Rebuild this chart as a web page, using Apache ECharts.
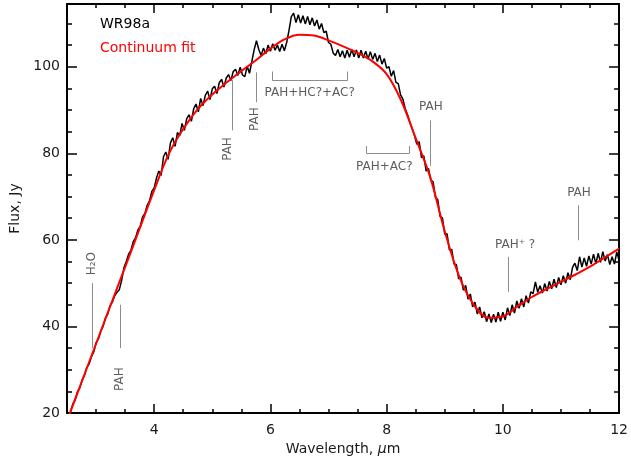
<!DOCTYPE html>
<html><head><meta charset="utf-8">
<script src="https://cdn.jsdelivr.net/npm/echarts@6/dist/echarts.min.js"></script>
<style>html,body{margin:0;padding:0;background:#fff}#c{width:631px;height:466px}</style>
</head><body><div id="c"></div>
<script>
// ---- data ----
const waveStart = 2.56, waveStep = 0.04;   // sampling grid of the observed spectrum (micron)
const flux = [
  20.2, 22.1, 23.0, 24.9, 25.8, 27.6, 28.7, 30.5, 31.3, 33.0,
  34.1, 36.2, 37.1, 38.9, 40.0, 41.9, 42.8, 44.8, 45.6, 47.1,
  47.9, 48.5, 50.6, 53.6, 55.0, 56.7, 57.6, 59.6, 60.5, 62.3,
  63.1, 65.3, 66.1, 68.0, 69.0, 71.2, 72.0, 74.3, 75.9, 74.9,
  79.2, 80.3, 78.6, 82.4, 83.6, 81.6, 84.8, 84.1, 86.9, 85.3,
  88.0, 88.9, 87.4, 90.3, 91.4, 89.6, 92.7, 91.0, 93.4, 94.4,
  92.4, 94.9, 95.5, 93.8, 96.3, 97.1, 95.3, 97.4, 98.2, 96.8,
  98.9, 99.4, 98.0, 99.9, 98.1, 97.7, 100.1, 98.5, 101.2, 103.9,
  106.0, 104.0, 102.6, 104.3, 103.0, 105.0, 103.6, 105.3, 103.8, 105.0,
  103.5, 105.2, 103.7, 105.6, 108.4, 111.6, 112.4, 110.2, 112.0, 110.1,
  111.8, 109.9, 111.6, 109.7, 111.3, 109.4, 110.8, 108.7, 110.0, 107.9,
  108.2, 105.6, 105.2, 103.2, 102.6, 104.0, 102.3, 103.7, 102.0, 103.8,
  102.2, 104.0, 102.3, 103.9, 102.0, 103.8, 102.0, 103.6, 101.8, 103.5,
  101.7, 103.1, 101.2, 102.7, 100.6, 101.9, 99.7, 100.0, 97.8, 99.1,
  96.4, 96.1, 93.5, 92.5, 90.3, 88.9, 87.1, 85.7, 84.1, 82.1,
  82.7, 79.0, 79.4, 75.9, 76.5, 73.8, 73.4, 69.8, 69.3, 65.4,
  65.1, 61.3, 61.4, 57.7, 57.8, 54.4, 54.3, 51.0, 51.4, 48.4,
  49.5, 46.3, 47.5, 44.5, 45.6, 42.9, 44.5, 42.0, 43.4, 41.1,
  42.9, 40.9, 42.8, 41.0, 43.3, 41.2, 43.3, 41.5, 44.3, 42.5,
  45.0, 43.1, 45.9, 44.2, 46.4, 44.5, 47.1, 45.4, 48.0, 47.6,
  50.3, 47.9, 49.4, 47.7, 49.9, 48.2, 50.4, 48.7, 50.9, 49.0,
  51.3, 49.6, 51.7, 50.0, 52.4, 50.8, 53.7, 54.6, 52.9, 56.1,
  53.7, 55.8, 53.9, 56.3, 54.4, 56.7, 54.5, 56.9, 54.8, 57.3,
  55.1, 56.6, 54.3, 56.1, 54.4, 57.2, 55.3
];
const contWave = [2.5, 2.75, 3.0, 3.25, 3.5, 3.75, 4.0, 4.25, 4.5, 4.75, 5.0, 5.25, 5.5, 5.75,
  6.0, 6.25, 6.5, 6.75, 7.0, 7.25, 7.5, 7.75, 8.0, 8.25, 8.5, 8.75, 9.0, 9.25, 9.5, 9.75,
  10.0, 10.25, 10.5, 10.75, 11.0, 11.25, 11.5, 11.75, 12.0];
const contFlux = [18.2, 27.1, 36.0, 44.9, 53.7, 62.6, 71.5, 79.8, 85.6, 90.2, 93.6, 96.4, 99.0, 101.5,
  104.2, 106.4, 107.4, 107.2, 106.1, 104.7, 103.2, 101.3, 98.3, 92.2, 83.5, 74.5, 62.0, 51.5, 45.0, 42.0,
  42.3, 44.6, 46.8, 48.6, 50.3, 52.0, 53.8, 55.9, 58.0];
const xMajorTicks = [4, 6, 8, 10, 12];
const xMinorTicks = [3, 3.5, 4.5, 5, 5.5, 6.5, 7, 7.5, 8.5, 9, 9.5, 10.5, 11, 11.5];
const yMajorTicks = [20, 40, 60, 80, 100];
const yMinorTicks = [25, 30, 35, 45, 50, 55, 65, 70, 75, 85, 90, 95, 105, 110];
// feature markers (polylines in data coordinates) and their labels
const annoLines = [
  [[2.94, 35], [2.94, 50]],
  [[3.42, 35], [3.42, 45]],
  [[5.34, 85.3], [5.34, 96.9]],
  [[5.75, 91.8], [5.75, 98.7]],
  [[6.03, 98.9], [6.03, 96.85], [7.33, 96.85], [7.33, 98.9]],
  [[7.65, 81.7], [7.65, 80], [8.39, 80], [8.39, 81.7]],
  [[8.75, 77.1], [8.75, 87.6]],
  [[10.09, 48], [10.09, 56.1]],
  [[11.29, 59.9], [11.29, 68]]
];
const annoLabels = ['H\u2082O', 'PAH', 'PAH', 'PAH', 'PAH+HC?+AC?', 'PAH+AC?', 'PAH', 'PAH\u207A ?', 'PAH'];
const annoAt = [[2.927, 54.5], [3.418, 27.85], [5.27, 81.0], [5.727, 87.9], [6.676, 93.9],
  [7.96, 76.9], [8.76, 90.8], [10.21, 58.9], [11.31, 70.95]];
const annoVertical = [true, true, true, true, false, false, false, false, false];

// ---- chart ----
const FONT = 'DejaVu Sans';
const TXT = '#1a1a1a';
const spectrum = flux.map((f, i) => [+(waveStart + i * waveStep).toFixed(2), f]);
const continuum = contWave.map((w, i) => [w, contFlux[i]]);

const segs = [];
annoLines.forEach(pl => {
  for (let i = 0; i < pl.length - 1; i++) segs.push([{coord: pl[i]}, {coord: pl[i + 1]}]);
});

function xAx(pos, ticks, len, labels, line, name) {
  const a = {
    type: 'value', min: 2.5, max: 12, position: pos,
    axisLine: {show: line, onZero: false, lineStyle: {color: '#000', width: 2}},
    axisTick: {show: true, inside: true, length: len, customValues: ticks, lineStyle: {color: '#000', width: 1.5}},
    axisLabel: {show: labels, customValues: ticks, margin: 10, fontSize: 14, fontFamily: FONT, color: TXT},
    splitLine: {show: false}, minorTick: {show: false}
  };
  if (name) {
    a.name = 'Wavelength, {i|\u03bc}m';
    a.nameLocation = 'middle';
    a.nameGap = 29;
    a.nameTextStyle = {fontSize: 14, fontFamily: FONT, color: TXT,
      rich: {i: {fontStyle: 'italic', fontSize: 14, fontFamily: FONT, color: TXT}}};
  }
  return a;
}
function yAx(pos, ticks, len, labels, line, name) {
  const a = {
    type: 'value', min: 20, max: 114.5, position: pos,
    axisLine: {show: line, onZero: false, lineStyle: {color: '#000', width: 2}},
    axisTick: {show: true, inside: true, length: len, customValues: ticks, lineStyle: {color: '#000', width: 1.5}},
    axisLabel: {show: labels, customValues: ticks, margin: 7, fontSize: 14, fontFamily: FONT, color: TXT},
    splitLine: {show: false}, minorTick: {show: false}
  };
  if (name) {
    a.name = 'Flux, Jy';
    a.nameLocation = 'middle';
    a.nameGap = 45;
    a.nameTextStyle = {fontSize: 14, fontFamily: FONT, color: TXT};
  }
  return a;
}

const chart = echarts.init(document.getElementById('c'), null, {renderer: 'canvas'});
chart.setOption({
  animation: false,
  backgroundColor: '#fff',
  grid: {left: 65, right: 11, top: 4, bottom: 53, containLabel: false},
  legend: {
    left: 89, top: 12, orient: 'vertical', itemWidth: 0, itemHeight: 0, itemGap: 10,
    selectedMode: false,
    textStyle: {fontSize: 14, fontFamily: FONT},
    data: [{name: 'WR98a', textStyle: {color: '#000'}}, {name: 'Continuum fit', textStyle: {color: '#ff0000'}}]
  },
  xAxis: [
    xAx('bottom', xMajorTicks, 9, true, true, true),
    xAx('bottom', xMinorTicks, 4, false, false, false),
    xAx('top', xMajorTicks, 9, false, true, false),
    xAx('top', xMinorTicks, 4, false, false, false)
  ],
  yAxis: [
    yAx('left', yMajorTicks, 10, true, true, true),
    yAx('left', yMinorTicks, 5, false, false, false),
    yAx('right', yMajorTicks, 10, false, true, false),
    yAx('right', yMinorTicks, 5, false, false, false)
  ],
  series: [
    {
      name: 'WR98a', type: 'line', data: spectrum, symbol: 'none', showSymbol: false,
      lineStyle: {color: '#000', width: 1.5}, itemStyle: {color: '#000'}, z: 2
    },
    {
      name: 'Continuum fit', type: 'line', data: continuum, smooth: 0.35, symbol: 'none', showSymbol: false,
      lineStyle: {color: '#ff0000', width: 2}, itemStyle: {color: '#ff0000'}, z: 3
    },
    {
      name: 'features', type: 'scatter', symbolSize: 0, silent: true, z: 1,
      data: annoAt.map((p, i) => ({
        value: p,
        label: {
          show: true, position: 'inside', formatter: annoLabels[i],
          rotate: annoVertical[i] ? 90 : 0,
          fontSize: 12, fontFamily: FONT, color: '#333'
        }
      })),
      markLine: {
        silent: true, symbol: ['none', 'none'], animation: false,
        label: {show: false},
        lineStyle: {color: '#8c8c8c', width: 1, type: 'solid'},
        emphasis: {disabled: true},
        data: segs
      }
    }
  ]
});
</script></body></html>
